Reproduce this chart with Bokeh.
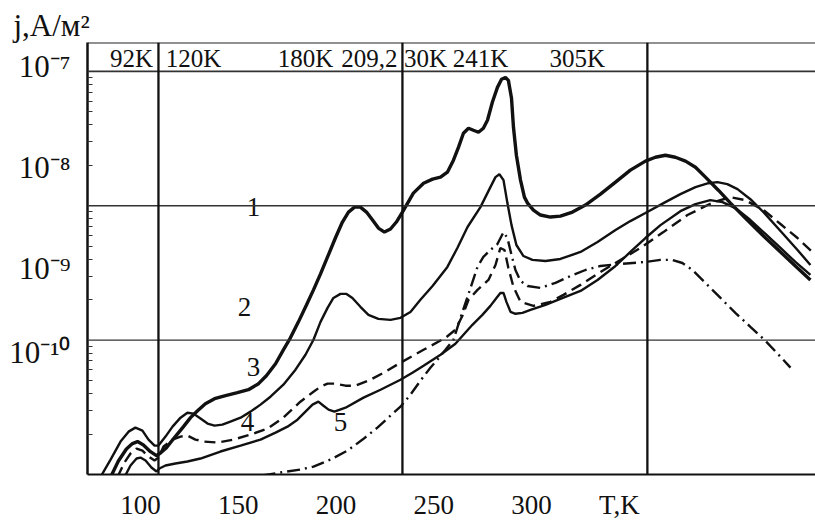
from bokeh.plotting import figure
from bokeh.models import Range1d, Span, FixedTicker
from bokeh.core.properties import value
from bokeh.embed import file_html
from bokeh.resources import INLINE

FONT = "Liberation Serif"

# ---- data: T in K, log10 of j in A/m^2 ----
curve1_T = [84.7, 88.7, 92.8, 95.9, 98.5, 101.5, 105.1, 108.2, 110.2, 113.3, 117.4, 122.0, 125.6,
            129.2, 133.2, 137.9, 143.5, 149.6, 155.2, 160.4, 164.4, 169.1, 173.1, 176.7, 180.8,
            184.9, 188.5, 192.1, 195.7, 199.7, 203.3, 206.4, 209.5, 212.5, 215.6, 218.7, 221.7,
            224.8, 227.9, 230.9, 234.0, 239.6, 244.8, 249.4, 253.5, 257.0, 260.1, 262.7, 265.2,
            267.8, 270.3, 272.9, 275.4, 277.5, 280.0, 282.6, 284.7, 286.7, 288.2, 289.8, 290.8,
            292.3, 294.4, 296.4, 298.0, 301.0, 304.6, 309.7, 314.8, 321.0, 327.6, 335.3, 343.0,
            350.6, 358.3, 363.4, 368.5, 373.6, 378.8, 383.9, 389.0, 395.6, 401.8, 409.4, 418.7,
            427.4, 436.1, 442.7]
curve1_logj = [-10.02, -9.90, -9.81, -9.77, -9.755, -9.78, -9.83, -9.86, -9.84, -9.80, -9.725, -9.644,
               -9.577, -9.525, -9.473, -9.436, -9.413, -9.391, -9.369, -9.324, -9.265, -9.176, -9.072,
               -8.983, -8.864, -8.738, -8.626, -8.507, -8.381, -8.240, -8.121, -8.047, -8.010, -8.010,
               -8.047, -8.106, -8.166, -8.196, -8.173, -8.121, -8.047, -7.906, -7.832, -7.802, -7.787,
               -7.750, -7.661, -7.564, -7.460, -7.423, -7.438, -7.453, -7.423, -7.364, -7.230, -7.119,
               -7.059, -7.045, -7.067, -7.200, -7.416, -7.624, -7.809, -7.936, -7.980, -8.032, -8.069,
               -8.084, -8.077, -8.047, -7.995, -7.913, -7.824, -7.735, -7.668, -7.639, -7.624, -7.639,
               -7.668, -7.713, -7.787, -7.884, -7.980, -8.092, -8.225, -8.344, -8.463, -8.552]

curve2_T = [79.5, 84.7, 89.8, 93.9, 97.4, 101.0, 104.1, 107.2, 109.2, 112.8, 116.4, 120.5, 124.0,
            127.1, 130.7, 134.3, 137.9, 141.9, 146.0, 151.2, 156.3, 161.4, 166.5, 173.1, 179.3,
            184.4, 188.5, 192.1, 195.7, 198.7, 202.3, 205.4, 208.4, 212.5, 216.6, 221.7, 227.9,
            233.0, 238.1, 243.2, 249.4, 257.0, 262.1, 267.3, 273.9, 279.0, 281.6, 283.6, 285.7,
            287.7, 289.8, 292.3, 295.9, 300.5, 307.2, 314.8, 325.1, 333.8, 343.0, 350.6, 358.3,
            368.5, 376.2, 383.9, 390.5, 395.1, 400.2, 405.4, 412.0, 418.7, 427.4, 436.1, 442.7]
curve2_logj = [-10.02, -9.889, -9.755, -9.681, -9.651, -9.673, -9.740, -9.785, -9.785, -9.718, -9.644,
               -9.577, -9.540, -9.547, -9.584, -9.621, -9.636, -9.629, -9.606, -9.577, -9.532, -9.480,
               -9.421, -9.332, -9.220, -9.109, -8.997, -8.864, -8.760, -8.686, -8.656, -8.656, -8.686,
               -8.752, -8.812, -8.842, -8.849, -8.834, -8.790, -8.700, -8.597, -8.455, -8.314, -8.158,
               -8.010, -7.861, -7.787, -7.765, -7.809, -7.980, -8.144, -8.292, -8.374, -8.403, -8.411,
               -8.396, -8.344, -8.270, -8.181, -8.114, -8.054, -7.973, -7.913, -7.861, -7.832, -7.824,
               -7.839, -7.876, -7.951, -8.047, -8.188, -8.329, -8.441]

curve3_T = [88.2, 91.8, 94.9, 98.0, 101.0, 104.1, 107.2, 109.2, 111.8, 116.4, 120.5, 124.0, 128.1,
            132.7, 139.4, 147.6, 156.3, 165.0, 173.1, 181.8, 188.5, 192.1, 195.7, 199.7, 204.9,
            210.0, 217.6, 225.3, 233.0, 244.8, 256.0, 261.1, 264.7, 267.8, 272.4, 278.0, 281.6,
            284.1, 286.2, 288.2, 290.8, 294.4, 301.0, 309.7, 316.4, 325.1, 333.8, 345.5, 355.7,
            367.5, 379.8, 393.1, 401.8, 409.4, 418.7, 427.4, 436.1, 443.7]
curve3_logj = [-10.02, -9.911, -9.844, -9.807, -9.822, -9.866, -9.896, -9.874, -9.792, -9.740, -9.718,
               -9.710, -9.740, -9.755, -9.762, -9.740, -9.703, -9.658, -9.577, -9.458, -9.384, -9.347,
               -9.324, -9.324, -9.339, -9.339, -9.295, -9.235, -9.168, -9.072, -8.983, -8.923, -8.819,
               -8.700, -8.626, -8.552, -8.441, -8.314, -8.329, -8.463, -8.604, -8.715, -8.745, -8.715,
               -8.663, -8.589, -8.507, -8.403, -8.314, -8.196, -8.069, -7.973, -7.936, -7.958, -8.032,
               -8.136, -8.240, -8.344]

curve4_T = [91.8, 94.9, 98.0, 100.0, 102.6, 105.6, 108.2, 109.7, 112.8, 117.9, 124.0, 130.7, 140.9,
            151.2, 161.4, 169.1, 175.2, 180.3, 184.4, 188.0, 191.0, 193.6, 196.2, 199.2, 204.9,
            214.1, 222.8, 233.0, 239.1, 244.8, 253.5, 261.1, 269.8, 274.9, 279.0, 282.1, 284.1,
            285.7, 287.2, 289.3, 291.8, 295.4, 299.5, 307.2, 314.8, 325.1, 333.8, 343.0, 350.6,
            358.3, 366.0, 376.2, 383.9, 391.5, 397.7, 404.3, 412.0, 419.7, 427.4, 435.0, 442.7]
curve4_logj = [-10.02, -9.933, -9.881, -9.874, -9.896, -9.948, -9.978, -9.955, -9.933, -9.918, -9.903,
               -9.881, -9.829, -9.785, -9.740, -9.688, -9.644, -9.592, -9.532, -9.480, -9.458, -9.488,
               -9.517, -9.532, -9.503, -9.428, -9.369, -9.295, -9.243, -9.191, -9.109, -9.027, -8.886,
               -8.812, -8.745, -8.686, -8.649, -8.649, -8.715, -8.790, -8.804, -8.797, -8.775, -8.738,
               -8.693, -8.634, -8.552, -8.448, -8.344, -8.240, -8.144, -8.040, -7.988, -7.958, -7.973,
               -8.017, -8.106, -8.210, -8.314, -8.418, -8.515]

curve5_T = [162.4, 171.6, 181.8, 188.5, 197.2, 205.9, 213.6, 221.2, 227.9, 233.0, 238.1, 243.2, 248.3,
            251.9, 256.0, 260.1, 263.7, 267.3, 272.4, 275.4, 279.0, 282.6, 285.7, 287.7, 289.8,
            291.8, 294.4, 298.0, 304.6, 312.3, 320.0, 327.6, 335.3, 345.5, 358.3, 366.0, 372.1,
            377.2, 382.3, 389.0, 396.7, 404.3, 412.0, 419.7, 427.4, 432.5]
curve5_logj = [-10.007, -9.985, -9.963, -9.941, -9.889, -9.822, -9.740, -9.651, -9.562, -9.495, -9.406,
               -9.302, -9.205, -9.146, -9.072, -8.997, -8.834, -8.678, -8.455, -8.381, -8.329, -8.285,
               -8.196, -8.240, -8.366, -8.478, -8.559, -8.597, -8.611, -8.574, -8.522, -8.478, -8.448,
               -8.433, -8.418, -8.403, -8.403, -8.426, -8.478, -8.574, -8.686, -8.797, -8.901, -9.005,
               -9.124, -9.205]

# curve number labels (T, log10 j)
num_text = ["1", "2", "3", "4", "5"]
num_T = [157.8, 153.2, 157.8, 154.7, 202.3]
num_logj = [-8.01, -8.75, -9.20, -9.61, -9.61]

# peak temperatures written in the header band
peak_text = ["92K", "120K", "180K", "209,2", "30K", "241K", "305K"]
peak_T = [95.4, 127.1, 184.4, 217.1, 245.8, 273.9, 323.5]
peak_logj = -6.907

# ticks
x_ticks = [100, 150, 200, 250, 300, 345]
x_tick_labels = ["100", "150", "200", "250", "300", "T,K"]
y_ticks = [1.089e-7, 1.936e-8, 3.39e-9, 8.05e-10]
y_tick_labels = ["10\u207b\u2077", "10\u207b\u2078", "10\u207b\u2079", "10\u207b\u00b9\u2070"]
y_minor = [m * 10.0 ** e for e in (-10, -9, -8) for m in range(2, 10)]

# grid lines
h_lines = [1e-7, 1e-8, 1e-9]
v_lines = [109.2, 234.0, 359.3]

x_min, x_max = 72.9, 445.3
y_min, y_max = 1e-10, 1.641e-7


def j(vals):
    return [10.0 ** v for v in vals]


p = figure(width=815, height=522, output_backend="svg", toolbar_location=None,
           y_axis_type="log",
           x_range=Range1d(x_min, x_max), y_range=Range1d(y_min, y_max),
           min_border_left=87, min_border_right=0, min_border_top=42, min_border_bottom=47)
p.outline_line_color = None
p.grid.visible = False
p.background_fill_color = "white"
p.border_fill_color = "white"

# title used as the y quantity label
p.title.text = "j,A/\u043c\u00b2"
p.title.align = "left"
p.title.offset = -74
p.title.standoff = 0
p.title.text_font = FONT
p.title.text_font_size = "31px"
p.title.text_font_style = "normal"
p.title.text_color = "#111111"

# axes
p.xaxis.ticker = FixedTicker(ticks=x_ticks)
p.xaxis.major_label_overrides = dict(zip(x_ticks, x_tick_labels))
p.xaxis.major_tick_line_color = None
p.xaxis.minor_tick_line_color = None
p.xaxis.axis_line_width = 2
p.xaxis.axis_line_color = "#111111"
p.xaxis.major_label_text_font = FONT
p.xaxis.major_label_text_font_size = "27px"
p.xaxis.major_label_text_color = "#111111"
p.xaxis.major_label_standoff = 9

p.yaxis.ticker = FixedTicker(ticks=y_ticks, minor_ticks=y_minor)
p.yaxis.major_label_overrides = dict(zip(y_ticks, y_tick_labels))
p.yaxis.major_tick_line_color = None
p.yaxis.minor_tick_in = 5
p.yaxis.minor_tick_out = 0
p.yaxis.minor_tick_line_color = "#333333"
p.yaxis.axis_line_width = 2.5
p.yaxis.axis_line_color = "#111111"
p.yaxis.major_label_text_font = FONT
p.yaxis.major_label_text_font_size = "31px"
p.yaxis.major_label_text_color = "#111111"
p.yaxis.major_label_standoff = 11

# frame lines
for yv in h_lines:
    p.add_layout(Span(location=yv, dimension="width", line_color="#333333",
                      line_width=1.4 if yv != 1e-7 else 1.6))
p.add_layout(Span(location=y_max, dimension="width", line_color="#222222", line_width=2))
for xv in v_lines:
    p.add_layout(Span(location=xv, dimension="height", line_color="#111111", line_width=2.3))

# curves
p.line(curve1_T, j(curve1_logj), line_color="#111111", line_width=3.4)
p.line(curve2_T, j(curve2_logj), line_color="#111111", line_width=2.4)
p.line(curve3_T, j(curve3_logj), line_color="#111111", line_width=2.4, line_dash="11 6")
p.line(curve4_T, j(curve4_logj), line_color="#111111", line_width=2.4)
p.line(curve5_T, j(curve5_logj), line_color="#111111", line_width=2.4, line_dash="13 5 2 5")

# texts
p.text(x=num_T, y=j(num_logj), text=num_text, text_font=value(FONT), text_font_size="27px",
       text_align="center", text_baseline="middle", text_color="#111111")
p.text(x=peak_T, y=[10.0 ** peak_logj] * len(peak_T), text=peak_text, text_font=value(FONT),
       text_font_size="25px", text_align="center", text_baseline="middle", text_color="#111111")

open("out.html", "w").write(file_html(p, INLINE))
